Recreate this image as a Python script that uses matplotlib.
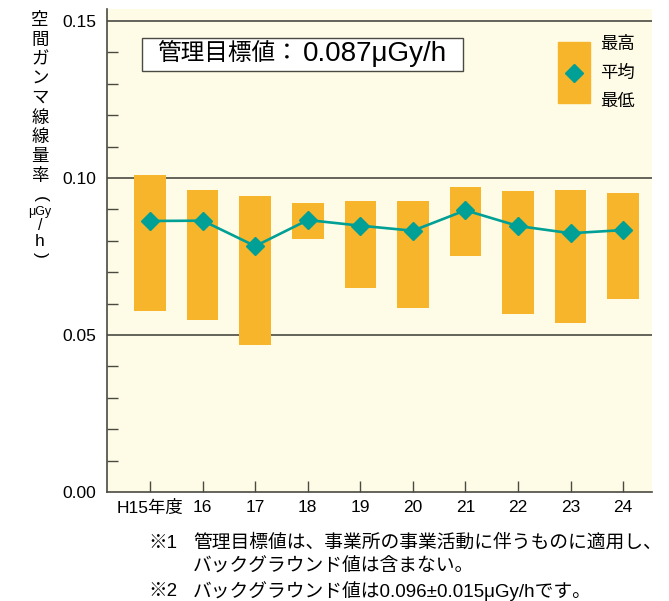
import matplotlib
matplotlib.use("Agg")
import matplotlib.pyplot as plt
from matplotlib.patches import Rectangle
from matplotlib.lines import Line2D

plt.rcParams['font.family'] = ['Liberation Sans', 'Noto Sans CJK JP', 'DejaVu Sans']

# data (uGy/h)
years = ['H15年度', '16', '17', '18', '19', '20', '21', '22', '23', '24']
highs = [0.1010, 0.0962, 0.0943, 0.0921, 0.0927, 0.0927, 0.0971, 0.0960, 0.0962, 0.0952]
lows = [0.0577, 0.0549, 0.0469, 0.0807, 0.0648, 0.0587, 0.0750, 0.0568, 0.0539, 0.0616]
means = [0.0863, 0.0864, 0.0783, 0.0866, 0.0848, 0.0832, 0.0897, 0.0847, 0.0824, 0.0834]
y_ticks = [0.00, 0.05, 0.10, 0.15]
y_label_chars = ['空', '間', 'ガ', 'ン', 'マ', '線', '線', '量', '率']
target_jp = '管理目標値：'
target_num = '0.087μGy/h'
note_marks = ['※1', '', '※2']
notes = ['管理目標値は、事業所の事業活動に伴うものに適用し、',
         'バックグラウンド値は含まない。',
         'バックグラウンド値は0.096±0.015μGy/hです。']

bar_color = '#F7B52C'
line_color = '#00A096'
bg_color = '#FEFCE6'
grid_color = '#4A4A42'
jp = ['Noto Sans CJK JP']

fig = plt.figure(figsize=(6.69, 6.01), dpi=100)
ax = fig.add_axes([0.160, 0.1814, 0.8146, 0.8036])
ax.set_facecolor(bg_color)

x = list(range(len(years)))
heights = [h - l for h, l in zip(highs, lows)]
ax.bar(x, heights, bottom=lows, width=0.6, color=bar_color, zorder=2)
ax.plot(x, means, color=line_color, linewidth=1.9, marker='D', markersize=9,
        zorder=3)

# horizontal grid lines
for v in y_ticks[1:]:
    ax.axhline(v, color=grid_color, linewidth=1.2, zorder=1)

ax.set_xlim(-0.82, 9.55)
ax.set_ylim(0, 0.1538)

# axes frame
for side in ['top', 'right']:
    ax.spines[side].set_visible(False)
ax.spines['left'].set_color(grid_color)
ax.spines['bottom'].set_color(grid_color)
ax.spines['left'].set_linewidth(1.2)
ax.spines['bottom'].set_linewidth(1.2)

ax.set_yticks(y_ticks)
ax.set_yticklabels(['%.2f' % v for v in y_ticks])
ax.set_yticks([i / 100 for i in range(1, 15) if i % 5 != 0], minor=True)
ax.tick_params(axis='y', which='major', length=0, pad=8, labelsize=12.5)
ax.tick_params(axis='y', which='minor', direction='in', length=8,
               width=1.0, color=grid_color)

ax.set_xticks(x)
ax.set_xticklabels(years)
ax.tick_params(axis='x', direction='in', length=8, width=1.0,
               color=grid_color, labelsize=12.5, pad=6)

# vertical y axis label, one character at a time
fx = 40 / 669
for i, ch in enumerate(y_label_chars):
    fig.text(fx, 1 - (20 + i * 19.5) / 601, ch, ha='center', va='center',
             fontsize=12.5, family=jp)
fig.text(fx, 1 - 199 / 601, '(', ha='center', va='center', fontsize=12.5,
         rotation=-90, rotation_mode='anchor')
fig.text(fx, 1 - 212 / 601, 'μGy', ha='center', va='center', fontsize=9)
fig.text(fx, 1 - 226 / 601, '/', ha='center', va='center', fontsize=11.5)
fig.text(fx, 1 - 242 / 601, 'h', ha='center', va='center', fontsize=12.5)
fig.text(fx, 1 - 255 / 601, ')', ha='center', va='center', fontsize=12.5,
         rotation=-90, rotation_mode='anchor')

# target value box
ax.add_patch(Rectangle((142 / 669, 1 - 71 / 601), 321 / 669, 33 / 601,
                       transform=fig.transFigure, facecolor='white',
                       edgecolor=grid_color, linewidth=1.0, zorder=4,
                       clip_on=False))
fig.text(157 / 669, 1 - 54 / 601, target_jp, ha='left', va='center',
         fontsize=17, family=jp, zorder=5)
fig.text(447 / 669, 1 - 54 / 601, target_num, ha='right', va='center',
         fontsize=20, zorder=5)

# legend
ax.add_patch(Rectangle((558 / 669, 1 - 103 / 601), 32 / 669, 61 / 601,
                       transform=fig.transFigure, color=bar_color,
                       zorder=4, clip_on=False))
fig.add_artist(Line2D([574 / 669], [1 - 73 / 601], marker='D', markersize=9,
                      color=line_color, linestyle='none'))
for lab, yy in zip(['最高', '平均', '最低'], [44, 73, 101]):
    fig.text(600 / 669, 1 - yy / 601, lab, ha='left', va='center',
             fontsize=12.5, family=jp)

# footnotes
for mark, note, yy in zip(note_marks, notes, [543, 567, 591]):
    if mark:
        fig.text(148 / 669, 1 - yy / 601, mark, ha='left', va='center',
                 fontsize=13.5)
    fig.text(193 / 669, 1 - yy / 601, note, ha='left', va='center',
             fontsize=13.5)

fig.savefig('out.png', dpi=100)
